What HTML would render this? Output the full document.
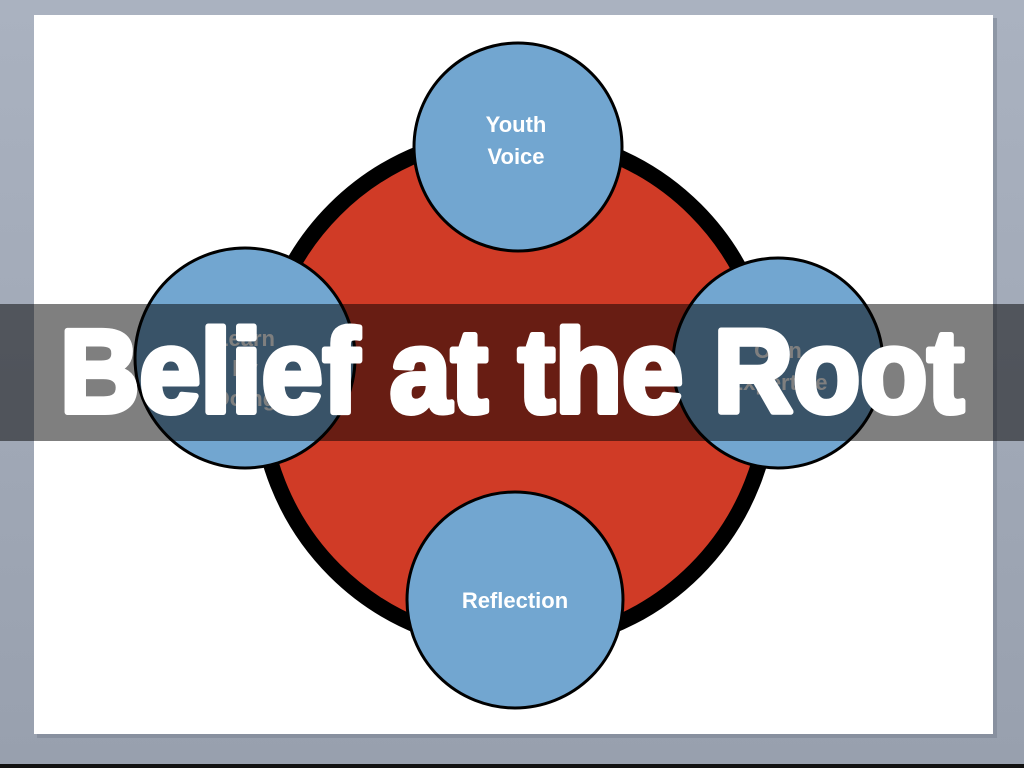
<!DOCTYPE html>
<html><head><meta charset="utf-8"><style>
html,body{margin:0;padding:0;width:1024px;height:768px;overflow:hidden;background:#9aa2b0}
</style></head><body>
<svg width="1024" height="768" xmlns="http://www.w3.org/2000/svg" style="position:absolute;left:0;top:0">
<defs><linearGradient id="bg" x1="0" y1="0" x2="0" y2="1"><stop offset="0" stop-color="#aab2c0"/><stop offset="1" stop-color="#98a0ae"/></linearGradient></defs>
<rect width="1024" height="768" fill="url(#bg)"/>
<rect x="37" y="18" width="960" height="720" fill="#7d8595" opacity="0.6"/>
<rect x="34" y="15" width="959" height="719" fill="#fff"/>
<rect x="0" y="764" width="1024" height="4" fill="#111"/>
<circle cx="515" cy="390" r="255" fill="#d03b26" stroke="#000" stroke-width="16"/>
<g fill="#72a6d0" stroke="#000" stroke-width="3">
<circle cx="518" cy="147" r="104"/>
<circle cx="245" cy="358" r="110"/>
<circle cx="778" cy="363" r="105"/>
<circle cx="515" cy="600" r="108"/>
</g>
<g fill="#fff" font-family="Liberation Sans, sans-serif" font-size="22" font-weight="bold" text-anchor="middle">
<text x="516" y="132">Youth</text><text x="516" y="164">Voice</text>
<text x="515" y="608">Reflection</text>
<text x="245" y="346">Learn</text><text x="245" y="376">by</text><text x="245" y="406">Doing</text>
<text x="778" y="358">Own</text><text x="778" y="390">Expertise</text>
</g>
<rect x="0" y="304" width="1024" height="137" fill="#000" opacity="0.5"/>
<text x="60" y="412" font-family="Liberation Sans, sans-serif" font-weight="bold" font-size="118" fill="#fff" stroke="#fff" stroke-width="6" stroke-linejoin="round" textLength="904" lengthAdjust="spacingAndGlyphs">Belief at the Root</text>
</svg>
</body></html>
